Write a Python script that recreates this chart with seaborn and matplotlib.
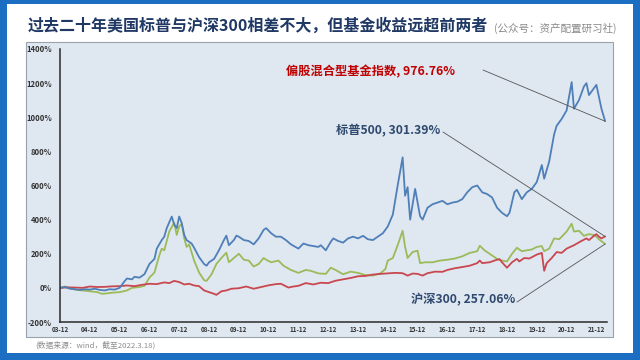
import pandas as pd
import matplotlib.pyplot as plt
from matplotlib.patches import Rectangle
import seaborn as sns

# 偏股混合型基金指数（蓝线）
fund_dates = ['2003-12-01', '2004-02-01', '2004-04-01', '2004-06-01', '2004-08-01', '2004-10-01', '2004-12-01',
              '2005-02-01', '2005-04-01', '2005-06-01', '2005-08-01', '2005-10-01', '2005-12-01', '2006-02-01',
              '2006-03-01', '2006-05-01', '2006-06-01', '2006-08-01', '2006-10-01', '2006-12-01', '2007-02-01',
              '2007-03-01', '2007-05-01', '2007-06-01', '2007-07-01', '2007-09-01', '2007-10-01', '2007-11-01',
              '2007-12-01', '2008-01-01', '2008-02-01', '2008-03-01', '2008-05-01', '2008-06-01', '2008-08-01',
              '2008-10-01', '2008-11-01', '2008-12-01', '2009-02-01', '2009-04-01', '2009-06-01', '2009-07-01',
              '2009-08-01', '2009-10-01', '2009-11-01', '2009-12-01', '2010-02-01', '2010-04-01', '2010-06-01',
              '2010-08-01', '2010-10-01', '2010-11-01', '2011-01-01', '2011-03-01', '2011-05-01', '2011-07-01',
              '2011-09-01', '2011-12-01', '2012-02-01', '2012-04-01', '2012-06-01', '2012-08-01', '2012-09-01',
              '2012-11-01', '2013-01-01', '2013-02-01', '2013-04-01', '2013-06-01', '2013-08-01', '2013-10-01',
              '2013-12-01', '2014-02-01', '2014-04-01', '2014-06-01', '2014-08-01', '2014-10-01', '2014-12-01',
              '2015-02-01', '2015-04-01', '2015-06-01', '2015-07-01', '2015-08-01', '2015-09-01', '2015-11-01',
              '2016-01-01', '2016-02-01', '2016-04-01', '2016-06-01', '2016-08-01', '2016-10-01', '2016-12-01',
              '2017-02-01', '2017-04-01', '2017-06-01', '2017-08-01', '2017-10-01', '2017-12-01', '2018-02-01',
              '2018-04-01', '2018-06-01', '2018-08-01', '2018-10-01', '2018-12-01', '2019-01-01', '2019-03-01',
              '2019-04-01', '2019-06-01', '2019-08-01', '2019-10-01', '2019-12-01', '2020-02-01', '2020-03-01',
              '2020-05-01', '2020-07-01', '2020-08-01', '2020-10-01', '2020-12-01', '2021-02-01', '2021-03-01',
              '2021-05-01', '2021-07-01', '2021-08-01', '2021-09-01', '2021-11-01', '2021-12-01', '2022-01-01',
              '2022-02-01', '2022-03-18']
fund_vals = [0, 5, -5, -8, -12, -8, -10,
             -5, -12, -15, -8, -10, 0, 40,
             55, 50, 65, 60, 80, 140, 170,
             230, 280, 300, 350, 418, 370, 350,
             418, 380, 310, 280, 260, 235, 180,
             140, 130, 150, 170, 220, 280, 306,
             250, 280, 306, 300, 280, 275, 255,
             290, 340, 350, 320, 300, 300, 280,
             255, 230, 260, 250, 245, 240, 250,
             220, 270, 290, 275, 265, 290, 300,
             290, 305, 285, 280, 300, 320, 360,
             430, 600, 765, 540, 590, 400, 580,
             420, 400, 470, 490, 500, 510, 490,
             500, 505, 520, 560, 590, 600, 560,
             550, 530, 470, 440, 420, 440, 560,
             575, 520, 560, 580, 620, 720, 640,
             740, 900, 950, 990, 1040, 1206, 1050,
             1100, 1180, 1200, 1130, 1170, 1190, 1120,
             1050, 976.76]

# 标普500（红线）
spx_dates = ['2003-12-01', '2004-03-01', '2004-06-01', '2004-09-01', '2004-12-01', '2005-03-01', '2005-06-01',
             '2005-09-01', '2005-12-01', '2006-03-01', '2006-06-01', '2006-09-01', '2006-12-01', '2007-03-01',
             '2007-06-01', '2007-08-01', '2007-10-01', '2007-12-01', '2008-02-01', '2008-04-01', '2008-06-01',
             '2008-08-01', '2008-10-01', '2008-12-01', '2009-02-01', '2009-03-01', '2009-05-01', '2009-07-01',
             '2009-09-01', '2009-12-01', '2010-03-01', '2010-06-01', '2010-09-01', '2010-12-01', '2011-03-01',
             '2011-05-01', '2011-08-01', '2011-10-01', '2011-12-01', '2012-03-01', '2012-06-01', '2012-09-01',
             '2012-12-01', '2013-03-01', '2013-06-01', '2013-09-01', '2013-12-01', '2014-03-01', '2014-06-01',
             '2014-09-01', '2014-12-01', '2015-03-01', '2015-06-01', '2015-08-01', '2015-10-01', '2015-12-01',
             '2016-02-01', '2016-04-01', '2016-07-01', '2016-10-01', '2016-12-01', '2017-03-01', '2017-06-01',
             '2017-09-01', '2017-12-01', '2018-01-01', '2018-02-01', '2018-05-01', '2018-08-01', '2018-09-01',
             '2018-10-01', '2018-12-01', '2019-02-01', '2019-04-01', '2019-05-01', '2019-07-01', '2019-09-01',
             '2019-12-01', '2020-02-01', '2020-03-01', '2020-04-01', '2020-06-01', '2020-08-01', '2020-10-01',
             '2020-12-01', '2021-03-01', '2021-06-01', '2021-08-01', '2021-09-01', '2021-11-01', '2021-12-01',
             '2022-01-01', '2022-02-01', '2022-03-18']
spx_vals = [0, 3, 2, 0, 8, 5, 6,
            9, 10, 14, 10, 18, 24, 22,
            32, 28, 41, 34, 20, 24, 14,
            10, -15, -25, -35, -41, -20, -15,
            -5, -2, 8, -5, 5, 15, 22,
            24, 2, 8, 12, 28, 20, 30,
            28, 42, 50, 58, 68, 70, 78,
            82, 85, 88, 86, 72, 84, 82,
            72, 86, 95, 94, 105, 115, 122,
            130, 145, 160, 145, 150, 165, 168,
            150, 118, 150, 170, 155, 175, 172,
            195, 205, 100, 145, 175, 210, 205,
            230, 250, 275, 290, 280, 305, 315,
            300, 290, 301.39]

# 沪深300（绿线）
csi_dates = ['2003-12-01', '2004-02-01', '2004-04-01', '2004-06-01', '2004-09-01', '2004-12-01', '2005-03-01',
             '2005-05-01', '2005-07-01', '2005-09-01', '2005-12-01', '2006-03-01', '2006-05-01', '2006-08-01',
             '2006-10-01', '2006-12-01', '2007-02-01', '2007-04-01', '2007-05-01', '2007-06-01', '2007-08-01',
             '2007-10-01', '2007-11-01', '2007-12-01', '2008-01-01', '2008-02-01', '2008-03-01', '2008-04-01',
             '2008-06-01', '2008-08-01', '2008-10-01', '2008-11-01', '2009-01-01', '2009-03-01', '2009-05-01',
             '2009-07-01', '2009-08-01', '2009-10-01', '2009-12-01', '2010-02-01', '2010-04-01', '2010-06-01',
             '2010-08-01', '2010-10-01', '2010-11-01', '2011-01-01', '2011-04-01', '2011-06-01', '2011-09-01',
             '2011-12-01', '2012-03-01', '2012-05-01', '2012-08-01', '2012-11-01', '2013-01-01', '2013-03-01',
             '2013-06-01', '2013-09-01', '2013-12-01', '2014-03-01', '2014-06-01', '2014-09-01', '2014-11-01',
             '2014-12-01', '2015-02-01', '2015-04-01', '2015-06-01', '2015-07-01', '2015-08-01', '2015-10-01',
             '2015-12-01', '2016-01-01', '2016-03-01', '2016-06-01', '2016-09-01', '2016-12-01', '2017-03-01',
             '2017-06-01', '2017-09-01', '2017-12-01', '2018-01-01', '2018-03-01', '2018-06-01', '2018-08-01',
             '2018-10-01', '2018-12-01', '2019-02-01', '2019-04-01', '2019-06-01', '2019-08-01', '2019-10-01',
             '2019-12-01', '2020-02-01', '2020-03-01', '2020-05-01', '2020-07-01', '2020-09-01', '2020-12-01',
             '2021-02-01', '2021-03-01', '2021-05-01', '2021-07-01', '2021-09-01', '2021-11-01', '2021-12-01',
             '2022-01-01', '2022-03-18']
csi_vals = [0, 8, -2, -10, -15, -20, -25,
            -35, -32, -28, -25, -15, 0, 5,
            12, 60, 90, 190, 230, 220, 330,
            382, 310, 360, 376, 290, 240, 255,
            160, 90, 45, 41, 80, 140, 175,
            206, 150, 175, 200, 165, 160, 125,
            140, 175, 165, 150, 160, 130, 105,
            88, 105, 100, 85, 82, 118, 105,
            80, 95, 88, 75, 72, 85, 110,
            160, 175, 250, 335, 240, 175, 210,
            218, 145, 150, 150, 160, 165, 172,
            185, 205, 215, 247, 220, 190, 170,
            160, 155, 200, 235, 215, 220, 225,
            240, 245, 215, 230, 290, 285, 330,
            376, 330, 335, 305, 315, 310, 300,
            285, 257.06]

year_ticks = ['%d-12-01' % y for y in range(2003, 2022)]
tick_labels = ['%02d-12' % (y % 100) for y in range(2003, 2022)]
y_ticks = [-200, 0, 200, 400, 600, 800, 1000, 1200, 1400]

title = '过去二十年美国标普与沪深300相差不大，但基金收益远超前两者'
subtitle = '(公众号：资产配置研习社)'
source = '(数据来源：wind，截至2022.3.18)'
label_fund = '偏股混合型基金指数, 976.76%'
label_spx = '标普500, 301.39%'
label_csi = '沪深300, 257.06%'

sns.set_style('white')
plt.rcParams['font.family'] = ['Noto Sans CJK SC', 'DejaVu Sans']

fund = pd.DataFrame({'date': pd.to_datetime(fund_dates), 'val': fund_vals})
spx = pd.DataFrame({'date': pd.to_datetime(spx_dates), 'val': spx_vals})
csi = pd.DataFrame({'date': pd.to_datetime(csi_dates), 'val': csi_vals})

W, H = 640, 360
fig = plt.figure(figsize=(6.4, 3.6), dpi=100)
fig.patch.set_facecolor('#1b6ec2')

# 白底和图表底板
fig.add_artist(Rectangle((7 / W, 7 / H), 626 / W, 349 / H, transform=fig.transFigure,
                         facecolor='white', edgecolor='none', zorder=-2))
fig.add_artist(Rectangle((26 / W, 1 - 337 / H), 587 / W, 295 / H, transform=fig.transFigure,
                         facecolor='#dfe7f1', edgecolor='#9aa3ad', linewidth=0.8, zorder=-1))

ax = fig.add_axes([60 / W, 1 - 322 / H, 547 / W, 273 / H])
ax.set_zorder(1)
ax.set_facecolor('none')

sns.lineplot(data=csi, x='date', y='val', ax=ax, color='#9bbb59', linewidth=1.3)
sns.lineplot(data=spx, x='date', y='val', ax=ax, color='#c9474f', linewidth=1.3)
sns.lineplot(data=fund, x='date', y='val', ax=ax, color='#4f7fb8', linewidth=1.3)

ax.set_xlim(pd.Timestamp('2003-12-01'), pd.Timestamp('2022-04-10'))
ax.set_ylim(-200, 1400)
ax.set_xticks(pd.to_datetime(year_ticks))
ax.set_xticklabels(tick_labels, fontsize=4.5, fontweight='bold', color='#333333')
ax.set_yticks(y_ticks)
ax.set_yticklabels(['%d%%' % v for v in y_ticks], fontsize=5.5, fontweight='bold', color='#333333')
ax.tick_params(axis='both', length=0)
ax.tick_params(axis='y', pad=6)
ax.tick_params(axis='x', pad=3)
ax.set_xlabel('')
ax.set_ylabel('')
for s in ['top', 'right']:
    ax.spines[s].set_visible(False)
for s in ['left', 'bottom']:
    ax.spines[s].set_color('#2a2a2a')
    ax.spines[s].set_linewidth(1.1)

# 标题
fig.text(28 / W, 1 - 26 / H, title, fontsize=11.5, fontweight='bold', color='#1f3864', va='center')
fig.text(494 / W, 1 - 28 / H, subtitle, fontsize=7.6, color='#8a8a8a', va='center')
fig.text(35 / W, 1 - 345 / H, source, fontsize=5.6, color='#8c8c8c', va='center')

# 标注
line_kw = dict(arrowstyle='-', color='#555555', lw=0.6, shrinkA=0, shrinkB=0)
fig.text(455 / W, 1 - 72 / H, label_fund, fontsize=8.8, fontweight='bold', color='#c00000',
         ha='right', va='center')
ax.annotate('', xy=(fund['date'].iloc[-1], fund['val'].iloc[-1]), xytext=(483 / W, 1 - 70 / H),
            textcoords='figure fraction', arrowprops=line_kw)
fig.text(440 / W, 1 - 131 / H, label_spx, fontsize=8.8, fontweight='bold', color='#2f4a6e',
         ha='right', va='center')
ax.annotate('', xy=(spx['date'].iloc[-1], spx['val'].iloc[-1]), xytext=(443 / W, 1 - 132 / H),
            textcoords='figure fraction', arrowprops=line_kw)
fig.text(515 / W, 1 - 300 / H, label_csi, fontsize=8.8, fontweight='bold', color='#2f4a6e',
         ha='right', va='center')
ax.annotate('', xy=(csi['date'].iloc[-1], csi['val'].iloc[-1]), xytext=(517 / W, 1 - 302 / H),
            textcoords='figure fraction', arrowprops=line_kw)

plt.savefig('out.png', dpi=100, facecolor=fig.get_facecolor())
